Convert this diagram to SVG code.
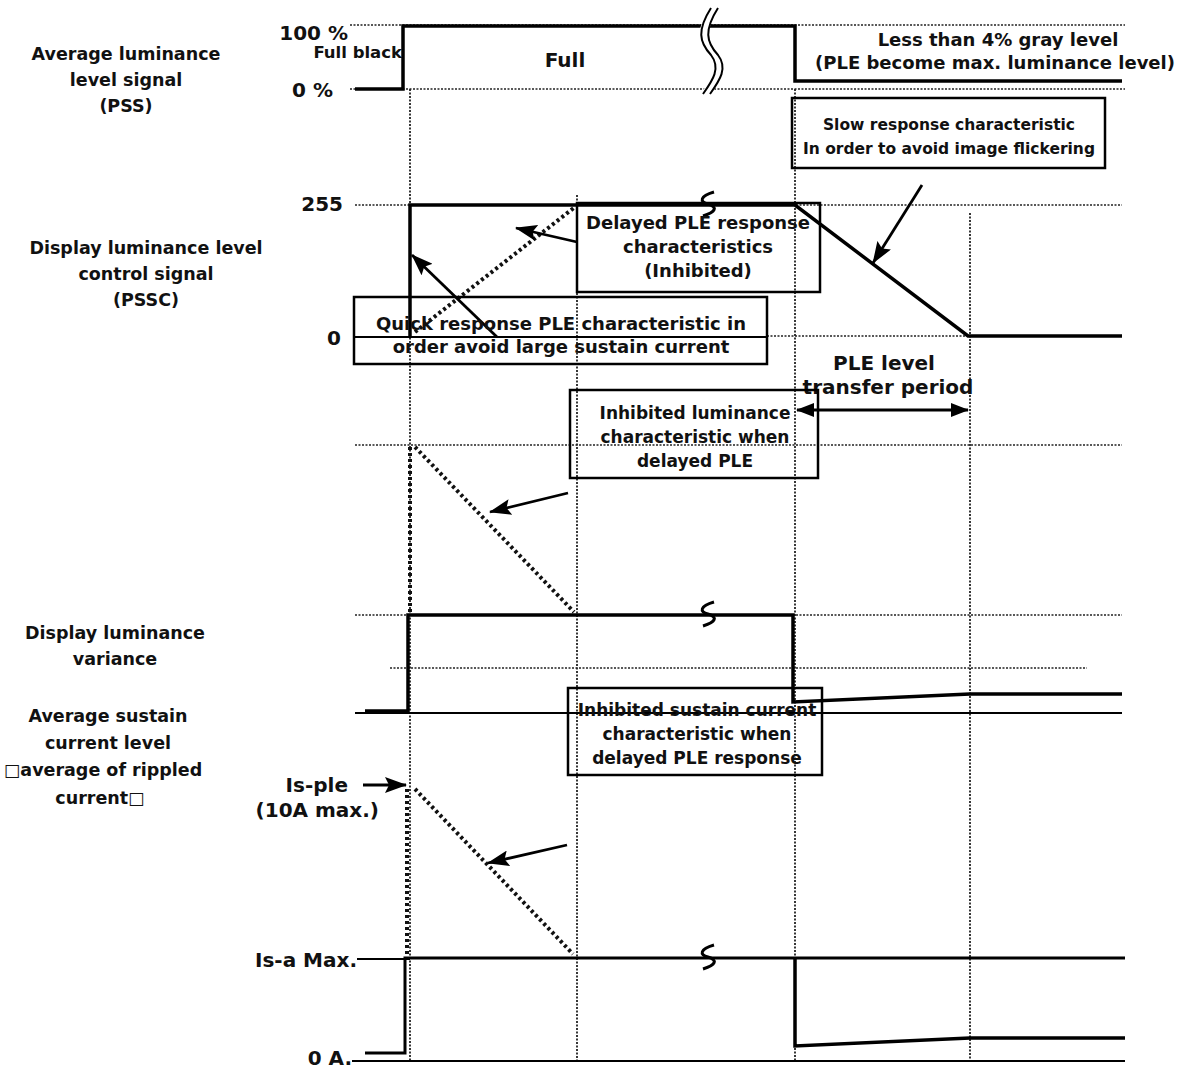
<svg xmlns="http://www.w3.org/2000/svg" width="1188" height="1070" viewBox="0 0 1188 1070">
<defs>
<style>
text{font-family:"DejaVu Sans","Liberation Sans",Arial,sans-serif;font-weight:bold;fill:#111;}
.lbl{font-size:17.5px;text-anchor:middle;}
.box{font-size:17.5px;text-anchor:middle;}
.ax{font-size:20px;text-anchor:end;}
.dot{stroke:#222;stroke-width:1.5;stroke-dasharray:2,1.5;fill:none;}
.vdot{stroke:#222;stroke-width:1.8;stroke-dasharray:2,1.5;fill:none;}
.thickdot{stroke:#111;stroke-width:4;stroke-dasharray:3,3;fill:none;}
.sig{stroke:#000;stroke-width:3.5;fill:none;}
.thin{stroke:#000;stroke-width:2;fill:none;}
.rect{stroke:#000;stroke-width:2.5;fill:none;}
.arr{stroke:#000;stroke-width:2.8;fill:none;marker-end:url(#ah);}
.brk{stroke:#000;stroke-width:3;fill:none;}
</style>
<marker id="ah" viewBox="0 0 22 16" refX="21" refY="8" markerWidth="22" markerHeight="16" markerUnits="userSpaceOnUse" orient="auto">
<path d="M0,0 L22,8 L0,16 L4,8 Z" fill="#000"/>
</marker>
<marker id="ah2" viewBox="0 0 18 14" refX="17" refY="7" markerWidth="18" markerHeight="14" markerUnits="userSpaceOnUse" orient="auto-start-reverse">
<path d="M0,0 L18,7 L0,14 Z" fill="#000"/>
</marker>
</defs>
<rect width="1188" height="1070" fill="#fff"/>

<g id="labels">
<text class="lbl" x="126" y="60">Average luminance</text>
<text class="lbl" x="126" y="86">level signal</text>
<text class="lbl" x="126" y="112">(PSS)</text>
<text class="lbl" x="146" y="254">Display luminance level</text>
<text class="lbl" x="146" y="280">control signal</text>
<text class="lbl" x="146" y="306">(PSSC)</text>
<text class="lbl" x="115" y="639">Display luminance</text>
<text class="lbl" x="115" y="665">variance</text>
<text class="lbl" x="108" y="722">Average sustain</text>
<text class="lbl" x="108" y="749">current level</text>
<text class="lbl" x="103" y="776">□average of rippled</text>
<text class="lbl" x="100" y="804">current□</text>
</g>

<g id="axis-labels">
<text class="ax" x="348" y="40">100 %</text>
<text class="ax" x="402" y="58" style="font-size:16.5px">Full black</text>
<text class="ax" x="333" y="97">0 %</text>
<text class="ax" x="343" y="211">255</text>
<text class="ax" x="341" y="345">0</text>
<text class="ax" x="348" y="792">Is-ple</text>
<text class="ax" x="379" y="817">(10A max.)</text>
<text class="ax" x="357" y="967">Is-a Max.</text>
<text class="ax" x="352" y="1065">0 A.</text>
</g>

<g id="connectors">
<!-- reference grid lines -->
<line class="dot" x1="350" y1="25" x2="1125" y2="25"/>
<line class="dot" x1="350" y1="89" x2="1125" y2="89"/>
<line class="dot" x1="355" y1="205" x2="1122" y2="205"/>
<line class="dot" x1="767" y1="336" x2="967" y2="336"/>
<line class="dot" x1="355" y1="445" x2="1122" y2="445"/>
<line class="dot" x1="355" y1="615" x2="1122" y2="615"/>
<line class="dot" x1="390" y1="668" x2="1087" y2="668"/>
<line class="vdot" x1="410" y1="89" x2="410" y2="1062"/>
<line class="vdot" x1="577" y1="195" x2="577" y2="1060"/>
<line class="vdot" x1="795" y1="89" x2="795" y2="1060"/>
<line class="vdot" x1="970" y1="213" x2="970" y2="1060"/>

<!-- PSS signal -->
<path class="sig" d="M355,89 L403,89 L403,26 L795,26 L795,81 L1122,81"/>
<!-- PSSC signal -->
<line class="thin" x1="354" y1="337" x2="767" y2="337"/>
<path class="sig" d="M410,337 L410,205 L795,205 L968,336 L1122,336"/>
<line class="thickdot" x1="415" y1="332" x2="575" y2="207"/>
<!-- luminance variance -->
<line class="thickdot" x1="410" y1="447" x2="410" y2="612"/>
<line class="thickdot" x1="415" y1="447" x2="574" y2="612"/>
<line class="thin" x1="355" y1="713" x2="1122" y2="713"/>
<path class="sig" d="M365,711 L408,711 L408,615 L793,615 L793,702 L970,694 L1122,694"/>
<!-- sustain current -->
<line class="thickdot" x1="407" y1="789" x2="407" y2="956"/>
<line class="thickdot" x1="415" y1="789" x2="573" y2="954"/>
<line class="thin" x1="357" y1="959" x2="410" y2="959"/>
<line class="thin" x1="352" y1="1061" x2="1125" y2="1061"/>
<path class="sig" d="M365,1053 L405,1053 L405,958 L795,958 L1125,958" style="stroke-width:3"/>
<path class="sig" d="M795,958 L795,1046 L970,1038 L1125,1038"/>

<!-- break marks -->
<path d="M714,8 C700,30 702,42 714,55 C724,68 716,80 706,94" stroke="#fff" stroke-width="9" fill="none"/>
<path d="M711,8 C697,30 699,42 711,55 C721,68 713,80 703,94" stroke="#000" stroke-width="2" fill="none"/>
<path d="M718,8 C704,30 706,42 718,55 C728,68 720,80 710,94" stroke="#000" stroke-width="2" fill="none"/>
<path class="brk" d="M714,192 C700,196 699,202 708,204 C718,207 716,212 703,216"/>
<path class="brk" d="M714,602 C700,606 699,612 708,614 C718,617 716,622 703,626"/>
<path class="brk" d="M714,945 C700,949 699,955 708,957 C718,960 716,965 703,969"/>

<!-- pointer arrows -->
<line class="arr" x1="922" y1="185" x2="873" y2="263"/>
<line class="arr" x1="577" y1="242" x2="516" y2="228"/>
<line class="arr" x1="497" y1="337" x2="412" y2="255"/>
<line class="arr" x1="568" y1="493" x2="490" y2="512"/>
<line class="arr" x1="567" y1="845" x2="488" y2="863"/>
<line class="arr" x1="363" y1="785" x2="406" y2="785"/>
<line x1="797" y1="410" x2="968" y2="410" stroke="#000" stroke-width="2.8" marker-start="url(#ah2)" marker-end="url(#ah2)"/>
</g>

<g id="node-full">
<text x="565" y="67" style="font-size:20px;text-anchor:middle">Full</text>
</g>
<g id="node-less-than">
<text x="998" y="46" style="font-size:18px;text-anchor:middle">Less than 4% gray level</text>
<text x="995" y="69" style="font-size:18px;text-anchor:middle">(PLE become max. luminance level)</text>
</g>
<g id="node-slow">
<rect class="rect" x="792" y="98" width="313" height="70" fill="#fff"/>
<text class="box" x="949" y="130" style="font-size:15.5px">Slow response characteristic</text>
<text class="box" x="949" y="154" style="font-size:15.5px">In order to avoid image flickering</text>
</g>
<g id="node-delayed">
<rect class="rect" x="577" y="203" width="243" height="89"/>
<text class="box" x="698" y="229" style="font-size:18px">Delayed PLE response</text>
<text class="box" x="698" y="253" style="font-size:18px">characteristics</text>
<text class="box" x="698" y="277" style="font-size:18px">(Inhibited)</text>
</g>
<g id="node-quick">
<rect class="rect" x="354" y="297" width="413" height="67"/>
<text class="box" x="561" y="330" style="font-size:18px">Quick response PLE characteristic in</text>
<text class="box" x="561" y="353" style="font-size:18px">order avoid large sustain current</text>
</g>
<g id="node-transfer">
<text x="884" y="370" style="font-size:20px;text-anchor:middle">PLE level</text>
<text x="888" y="394" style="font-size:20px;text-anchor:middle">transfer period</text>
</g>
<g id="node-inh-lum">
<rect class="rect" x="570" y="390" width="248" height="88"/>
<text class="box" x="695" y="419" style="font-size:17px">Inhibited luminance</text>
<text class="box" x="695" y="443" style="font-size:17px">characteristic when</text>
<text class="box" x="695" y="467" style="font-size:17px">delayed PLE</text>
</g>
<g id="node-inh-sus">
<rect class="rect" x="568" y="688" width="254" height="87"/>
<text class="box" x="697" y="716" style="font-size:17px">Inhibited sustain current</text>
<text class="box" x="697" y="740" style="font-size:17px">characteristic when</text>
<text class="box" x="697" y="764" style="font-size:17px">delayed PLE response</text>
</g>
</svg>
